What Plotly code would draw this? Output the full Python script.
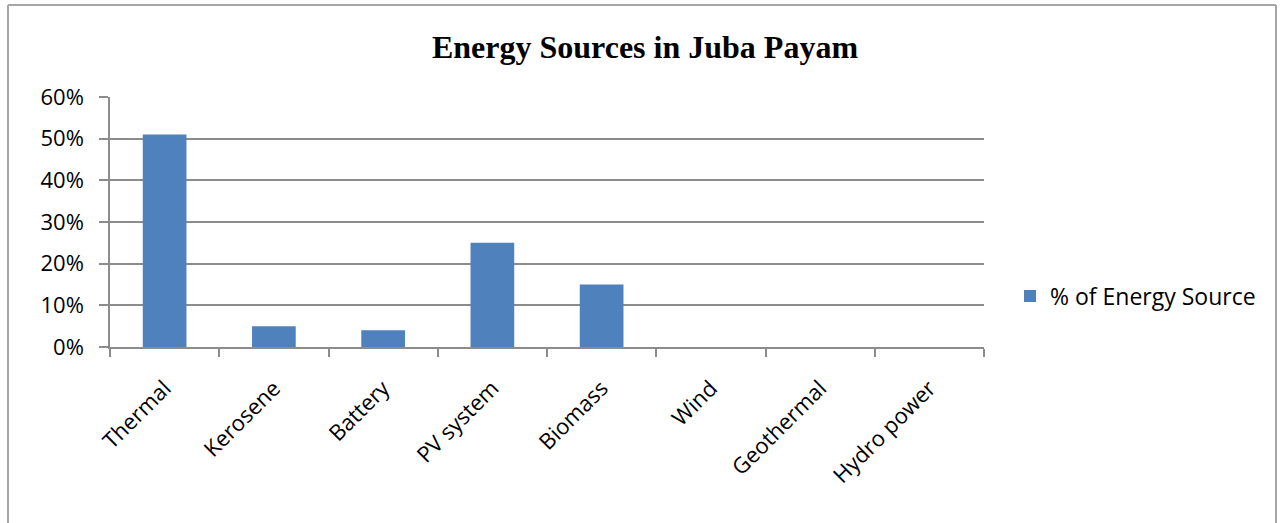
import plotly.graph_objects as go

categories = ["Thermal", "Kerosene", "Battery", "PV system", "Biomass", "Wind", "Geothermal", "Hydro power"]
values = [0.51, 0.05, 0.04, 0.25, 0.15, 0, 0, 0]
series_name = "% of Energy Source"
title_text = "Energy Sources in Juba Payam"

W, H = 1280, 523
L, R, T, B = 110, 984, 97, 347

fig = go.Figure()
fig.add_trace(go.Bar(x=categories, y=values, name=series_name,
                     marker=dict(color="#4f81bd", line=dict(width=0)),
                     showlegend=True))

axis_col = "#8c8c8c"
font_fam = "Open Sans, Noto Sans, sans-serif"

fig.update_layout(
    width=W, height=H,
    margin=dict(l=L, r=W - R, t=T, b=H - B),
    paper_bgcolor="white", plot_bgcolor="white",
    bargap=0.6,
    title=dict(text="<b>" + title_text + "</b>", x=645 / W, xanchor="center",
               y=1 - 47 / H, yanchor="middle",
               font=dict(family="Liberation Serif, Times New Roman, serif", size=32, color="black")),
    showlegend=True,
    legend=dict(x=(1010 - L) / (R - L), xanchor="left", y=(B - 296) / (B - T), yanchor="middle",
                font=dict(family=font_fam, size=23, color="black"),
                itemwidth=30, bgcolor="rgba(0,0,0,0)"),
    xaxis=dict(type="category", tickangle=-45, tickson="boundaries", ticks="outside",
               ticklen=8, tickcolor=axis_col, tickwidth=1.5,
               showline=True, linecolor=axis_col, linewidth=1.5,
               showgrid=False, ticklabelstandoff=18,
               tickfont=dict(family=font_fam, size=22, color="black")),
    yaxis=dict(range=[0, 0.6], dtick=0.1, tickformat=".0%", ticks="outside",
               ticklen=9, tickcolor=axis_col, tickwidth=1.5,
               showline=True, linecolor=axis_col, linewidth=1.5,
               showgrid=True, gridcolor=axis_col, gridwidth=1.5,
               zeroline=False, ticklabelstandoff=11,
               tickfont=dict(family=font_fam, size=22, color="black")),
)

def px_x(p):
    return (p - L) / (R - L)

def px_y(p):
    return (B - p) / (B - T)

border_col = "#a6a6a6"
fig.add_shape(type="line", xref="paper", yref="paper", x0=px_x(8), x1=px_x(8), y0=px_y(5), y1=px_y(530),
              line=dict(color=border_col, width=2))
fig.add_shape(type="line", xref="paper", yref="paper", x0=px_x(8), x1=px_x(1276), y0=px_y(5), y1=px_y(5),
              line=dict(color=border_col, width=2))
fig.add_shape(type="line", xref="paper", yref="paper", x0=px_x(1276), x1=px_x(1276), y0=px_y(5), y1=px_y(530),
              line=dict(color=border_col, width=2))

fig.write_html("out.html")
